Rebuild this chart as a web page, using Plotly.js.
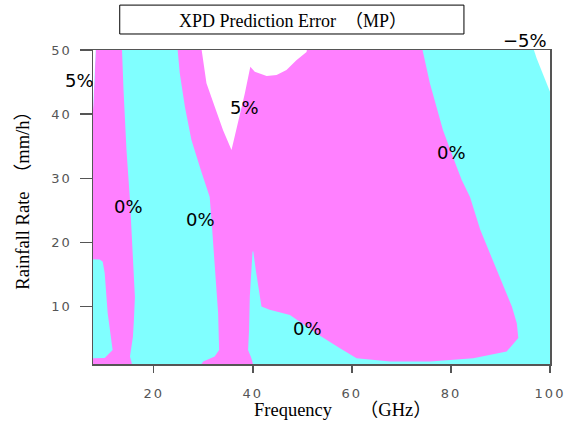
<!DOCTYPE html>
<html>
<head>
<meta charset="utf-8">
<script src="https://cdn.plot.ly/plotly-3.0.1.min.js"></script>
<style>
  html, body { margin: 0; padding: 0; background: #fff; }
  #chart { width: 578px; height: 426px; }
  .xtick text, .ytick text { letter-spacing: 2px; }
</style>
</head>
<body>
<div id="chart"></div>
<script>
// Tick values
const xTicks = [20, 40, 60, 80, 100];
const yTicks = [10, 20, 30, 40, 50];
const xRange = [7.74, 100];
const yRange = [1.05, 50];

// Region boundaries (Frequency GHz, Rainfall Rate mm/h)
// Magenta band near 10-16 GHz (0% .. 5%)
const magentaLeftX = [8.28, 13.5, 13.9, 14.5, 15.2, 15.5, 15.8, 16.2, 16.0, 15.8, 15.2, 15.5, 15.8, 5, 5, 10.1, 11.7, 11.5, 10.7, 10.1, 9.7, 9.1, 5, 5, 7.74, 8.08, 8.28];
const magentaLeftY = [52, 52, 43.8, 34.4, 26.6, 22.0, 16.8, 11.5, 7.9, 5.3, 2.2, 1.4, 0, 0, 1.85, 2.0, 3.25, 4.3, 9.0, 15.25, 17.0, 17.35, 17.4, 40.6, 40.65, 45.3, 50];

// White strip at the top-left edge (> 5%)
const whiteStripX = [5, 8.28, 8.28, 8.08, 7.74, 5];
const whiteStripY = [52, 52, 50, 45.3, 40.65, 40.6];

// Large magenta region 25-94 GHz (0% .. 5%)
const magentaMainX = [24.6, 25.25, 26.3, 27.6, 29.5, 31.3, 31.8, 32.3, 33.0, 33.2, 32.3, 30.0, 28.6, 40.4, 39.7, 39.05, 39.25, 39.4, 39.7, 39.95, 40.1, 40.6, 41.75, 43.4, 47.5, 53.9, 57.6, 60.95, 67.7, 75.8, 84.5, 91.25, 93.6, 93.3, 92.3, 90.9, 88.55, 85.9, 83.85, 82.2, 81.15, 78.4, 75.75, 73.7];
const magentaMainY = [52, 46.4, 41.1, 36.0, 31.3, 27.1, 22.0, 16.8, 9.0, 3.25, 2.2, 1.43, 0, 0, 2.0, 3.25, 6.4, 11.6, 16.8, 18.6, 18.6, 15.7, 10.0, 9.5, 8.7, 5.3, 3.5, 1.96, 1.43, 1.43, 1.96, 3.0, 5.1, 7.4, 10.0, 12.6, 16.8, 22.0, 27.1, 29.7, 31.8, 37.5, 44.8, 52];

// White region at the top centre (> 5%)
const whiteTopX = [29.3, 30.65, 32.3, 34.0, 35.7, 37.0, 38.4, 39.5, 40.4, 42.8, 44.8, 46.8, 48.8, 50.85, 51.3];
const whiteTopY = [52, 44.8, 41.2, 37.5, 34.4, 38.6, 43.25, 47.4, 46.6, 45.95, 46.1, 46.9, 48.4, 49.7, 52];

// White corner at the top right (< -5%)
const whiteCornerX = [95.9, 97.3, 98.65, 100, 102, 102];
const whiteCornerY = [52, 48.7, 46.1, 43.5, 43.0, 52];

// Contour labels
const labelX = [5.05, 38.38, 14.89, 29.39, 80.06, 51.11, 94.95];
const labelY = [45.17, 41.04, 25.64, 23.51, 34.0, 6.63, 51.43];
const labelText = ['5%', '5%', '0%', '0%', '0%', '0%', '\u22125%'];

const MAGENTA = '#ff80ff';
const CYAN = '#80ffff';
const WHITE = '#ffffff';

function region(xs, ys, color) {
  return {
    type: 'scatter', mode: 'lines', x: xs, y: ys,
    fill: 'toself', fillcolor: color,
    line: { width: 0, color: color },
    hoverinfo: 'skip', showlegend: false
  };
}

const traces = [
  region(magentaLeftX, magentaLeftY, MAGENTA),
  region(whiteStripX, whiteStripY, WHITE),
  region(magentaMainX, magentaMainY, MAGENTA),
  region(whiteTopX, whiteTopY, WHITE),
  region(whiteCornerX, whiteCornerY, WHITE)
];

const serif = 'Liberation Serif, Times New Roman, Noto Sans CJK JP, serif';

// labels may sit outside the axes, so place them via the axis-range mapping in paper units
const contourLabels = labelText.map((t, i) => ({
  xref: 'paper', yref: 'paper',
  x: (labelX[i] - xRange[0]) / (xRange[1] - xRange[0]),
  y: (labelY[i] - yRange[0]) / (yRange[1] - yRange[0]),
  xanchor: 'center', yanchor: 'middle', text: t, showarrow: false,
  font: { family: 'DejaVu Sans', size: 18, color: '#000' }
}));

const layout = {
  width: 578, height: 426,
  margin: { l: 93, r: 28, t: 50, b: 62, pad: 0 },
  paper_bgcolor: '#ffffff',
  plot_bgcolor: CYAN,
  font: { family: 'DejaVu Sans', size: 13, color: '#555' },
  xaxis: {
    range: xRange, tickvals: xTicks, ticktext: xTicks.map(String),
    ticks: 'outside', ticklen: 7, tickwidth: 1.5, tickcolor: '#555',
    ticklabelstandoff: 10,
    showline: true, linecolor: '#555', linewidth: 1.5, mirror: true,
    showgrid: false, zeroline: false, fixedrange: true,
    tickfont: { family: 'DejaVu Sans', size: 13, color: '#555' }
  },
  yaxis: {
    range: yRange, tickvals: yTicks, ticktext: yTicks.map(String),
    ticks: 'outside', ticklen: 12, tickwidth: 1.5, tickcolor: '#555',
    ticklabelstandoff: 5,
    showline: true, linecolor: '#555', linewidth: 1.5, mirror: true,
    showgrid: false, zeroline: false, fixedrange: true,
    tickfont: { family: 'DejaVu Sans', size: 13, color: '#555' }
  },
  shapes: [
    { type: 'rect', xref: 'paper', yref: 'paper', x0: 0.0585, x1: 0.8117, y0: 1.051, y1: 1.143,
      line: { color: '#000', width: 1 }, fillcolor: 'rgba(0,0,0,0)' }
  ],
  annotations: contourLabels.concat([
    { xref: 'paper', yref: 'paper', x: 0.4373, y: 1.0924, xanchor: 'center', yanchor: 'middle',
      text: 'XPD Prediction Error\u3000\uff08MP\uff09', showarrow: false,
      font: { family: serif, size: 18, color: '#000' } },
    { xref: 'paper', yref: 'paper', x: 0.548, y: -0.1465, xanchor: 'center', yanchor: 'middle',
      text: 'Frequency\u3000\u3000\uff08GHz\uff09', showarrow: false,
      font: { family: serif, size: 18.5, color: '#000' } },
    { xref: 'paper', yref: 'paper', x: -0.154, y: 0.535, xanchor: 'center', yanchor: 'middle',
      text: 'Rainfall Rate\u3000\uff08mm/h\uff09', showarrow: false, textangle: -90,
      font: { family: serif, size: 18.5, color: '#000' } }
  ])
};

Plotly.newPlot('chart', traces, layout, { displayModeBar: false, staticPlot: true });
</script>
</body>
</html>
